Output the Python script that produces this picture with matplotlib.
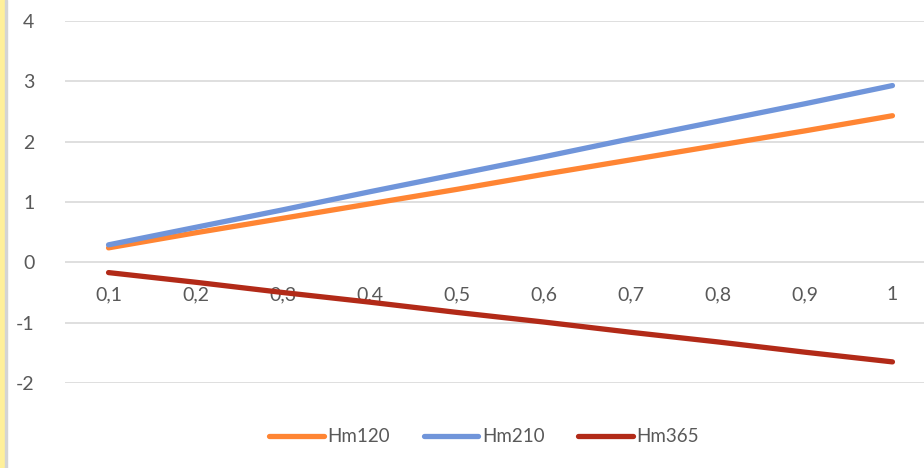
import matplotlib.pyplot as plt
from matplotlib.patches import Rectangle

plt.rcParams['font.family'] = ['Lato', 'DejaVu Sans']
plt.rcParams['axes.unicode_minus'] = False

# valores de x (categorías) y las tres series
categorias = ["0,1", "0,2", "0,3", "0,4", "0,5", "0,6", "0,7", "0,8", "0,9", "1"]
hm120 = [0.24, 0.49, 0.73, 0.97, 1.21, 1.46, 1.70, 1.94, 2.18, 2.43]
hm210 = [0.29, 0.58, 0.87, 1.17, 1.46, 1.75, 2.05, 2.34, 2.63, 2.93]
hm365 = [-0.17, -0.33, -0.50, -0.66, -0.83, -0.99, -1.16, -1.32, -1.49, -1.65]

series = [
    ("Hm120", hm120, "#FF8533"),
    ("Hm210", hm210, "#7095DA"),
    ("Hm365", hm365, "#B22A18"),
]

fig = plt.figure(figsize=(9.24, 4.68), dpi=100)
W, H = 924, 468
ax = fig.add_axes([65 / W, 1 - 383 / H, (936 - 65) / W, (383 - 21) / H])

x = list(range(len(categorias)))
for nombre, valores, color in series:
    ax.plot(x, valores, color=color, lw=3.8, solid_capstyle="round", label=nombre)

ax.set_xlim(-0.5, len(categorias) - 0.5)
ax.set_ylim(-2, 4)
ax.set_yticks(range(-2, 5))
ax.set_xticks(x)
ax.set_xticklabels(categorias)

ax.grid(axis="y", color="#D9D9D9", lw=1.2)
ax.set_axisbelow(True)
for s in ax.spines.values():
    s.set_visible(False)
ax.spines["bottom"].set_position(("data", 0))
ax.tick_params(axis="both", length=0, labelsize=14, colors="#595959")
ax.tick_params(axis="y", pad=22)
ax.tick_params(axis="x", pad=17)

fig.legend(loc="center", bbox_to_anchor=(484 / W, 1 - 437 / H), ncol=3,
           frameon=False, fontsize=13.5, labelcolor="#595959",
           handlelength=2.9, handletextpad=0.2, columnspacing=1.8)

# franja amarilla del borde izquierdo
fig.patches.append(Rectangle((0, 0), 5 / W, 1, transform=fig.transFigure,
                             color="#FFF09A", zorder=0))
fig.patches.append(Rectangle((5 / W, 0), 2 / W, 1, transform=fig.transFigure,
                             color="#D4D4D4", zorder=0))

fig.savefig("out.png", dpi=100)
